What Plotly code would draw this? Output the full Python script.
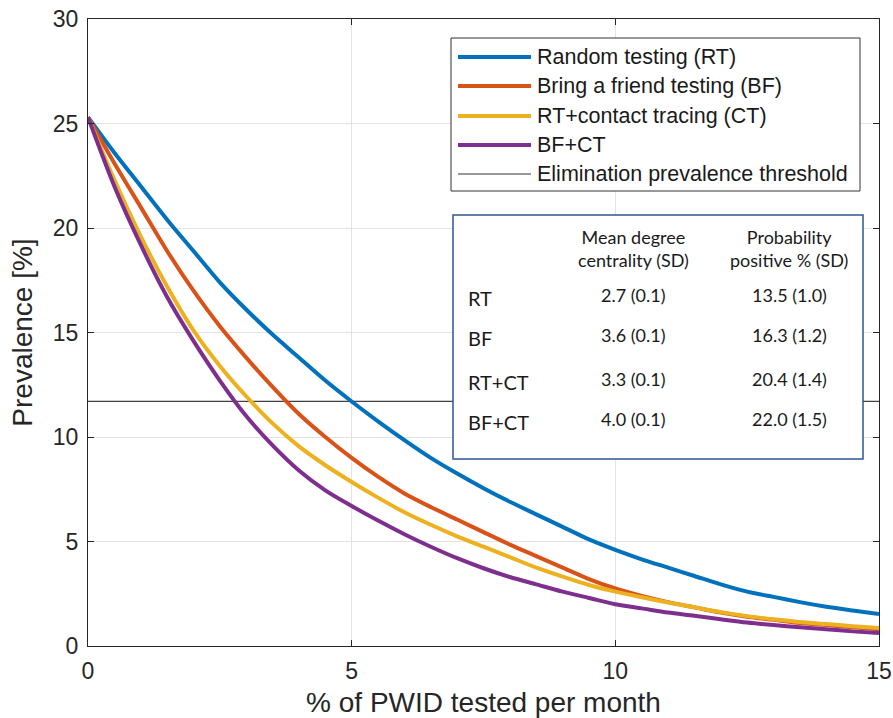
import plotly.graph_objects as go

# % of PWID tested per month
tested = [0, 0.5, 1, 1.5, 2, 2.5, 3, 3.5, 4, 4.5, 5, 5.5, 6, 6.5, 7, 7.5,
          8, 8.5, 9, 9.5, 10, 10.5, 11, 11.5, 12, 12.5, 13, 13.5, 14, 14.5, 15]

# prevalence [%] per strategy
rt = [25.3, 23.6, 22.0, 20.4, 18.9, 17.4, 16.1, 14.9, 13.8, 12.7, 11.7, 10.75,
      9.85, 9.0, 8.25, 7.55, 6.9, 6.3, 5.7, 5.1, 4.6, 4.15, 3.75, 3.35, 2.95,
      2.6, 2.35, 2.1, 1.88, 1.7, 1.53]
bf = [25.3, 23.1, 21.0, 18.9, 17.0, 15.3, 13.8, 12.4, 11.1, 10.0, 9.0, 8.1,
      7.3, 6.65, 6.05, 5.45, 4.85, 4.3, 3.75, 3.2, 2.75, 2.4, 2.1, 1.85, 1.6,
      1.4, 1.25, 1.1, 1.0, 0.9, 0.8]
rt_ct = [25.3, 22.3, 19.6, 17.2, 15.1, 13.4, 11.95, 10.65, 9.55, 8.65, 7.85,
         7.1, 6.4, 5.8, 5.25, 4.75, 4.25, 3.75, 3.32, 2.92, 2.6, 2.33, 2.08,
         1.85, 1.62, 1.43, 1.28, 1.15, 1.05, 0.95, 0.86]
bf_ct = [25.3, 22.0, 19.2, 16.7, 14.6, 12.7, 11.0, 9.6, 8.4, 7.45, 6.7, 6.0,
         5.35, 4.75, 4.2, 3.72, 3.3, 2.95, 2.6, 2.3, 2.0, 1.8, 1.6, 1.45, 1.28,
         1.12, 1.0, 0.9, 0.8, 0.7, 0.62]
threshold = 11.7

series_names = ['Random testing (RT)', 'Bring a friend testing (BF)',
                'RT+contact tracing (CT)', 'BF+CT']
threshold_name = 'Elimination prevalence threshold'

# inset table
table_rows = ['RT', 'BF', 'RT+CT', 'BF+CT']
table_headers = ['Mean degree<br>centrality (SD)', 'Probability<br>positive % (SD)']
centrality = ['2.7 (0.1)', '3.6 (0.1)', '3.3 (0.1)', '4.0 (0.1)']
prob_positive = ['13.5 (1.0)', '16.3 (1.2)', '20.4 (1.4)', '22.0 (1.5)']

colors = ['#0072BD', '#D95319', '#EDB120', '#7E2F8E']
axis_color = '#262626'

# pixel layout of the plot area
W, H = 893, 718
L, R, T, B = 88, 879, 19, 646


def px(x):
    return (x - L) / (R - L)


def py(y):
    return (B - y) / (B - T)


fig = go.Figure()

fig.add_trace(go.Scatter(
    x=[tested[0], tested[-1]], y=[threshold, threshold], mode='lines',
    line=dict(color='rgba(0,0,0,0.75)', width=1.2), name=threshold_name,
    showlegend=False
))
for values, name, color in zip([rt, bf, rt_ct, bf_ct], series_names, colors):
    fig.add_trace(go.Scatter(
        x=tested, y=values, mode='lines', name=name,
        line=dict(color=color, width=4, shape='spline', smoothing=0.8),
        showlegend=False
    ))

shapes = []
annotations = []

# legend box
shapes.append(dict(type='rect', xref='paper', yref='paper', layer='above',
                   x0=px(451), x1=px(860), y0=py(191), y1=py(38),
                   fillcolor='white', line=dict(color='#333333', width=1)))
legend_y = [57, 86, 116, 145, 174]
legend_names = series_names + [threshold_name]
legend_colors = colors + ['#333333']
legend_widths = [4, 4, 4, 4, 1]
for yy, name, color, lw in zip(legend_y, legend_names, legend_colors, legend_widths):
    shapes.append(dict(type='line', xref='paper', yref='paper', layer='above',
                       x0=px(458), x1=px(531), y0=py(yy), y1=py(yy),
                       line=dict(color=color, width=lw)))
    annotations.append(dict(xref='paper', yref='paper', x=px(535), y=py(yy),
                            text=name, showarrow=False, xanchor='left',
                            yanchor='middle',
                            font=dict(family='Liberation Sans', size=21.5,
                                      color='#1a1a1a')))

# table box
shapes.append(dict(type='rect', xref='paper', yref='paper', layer='above',
                   x0=px(453), x1=px(863), y0=py(459), y1=py(215),
                   fillcolor='white', line=dict(color='#2F5597', width=1.5)))
table_font = dict(family='Lato', size=18, color='#1a1a1a')
col_x = [633, 789]
for cx, head in zip(col_x, table_headers):
    annotations.append(dict(xref='paper', yref='paper', x=px(cx), y=py(248),
                            text=head, showarrow=False, xanchor='center',
                            yanchor='middle', align='center', font=table_font))
row_y = [298, 338, 382, 422]
for ry, label, c1, c2 in zip(row_y, table_rows, centrality, prob_positive):
    annotations.append(dict(xref='paper', yref='paper', x=px(466), y=py(ry),
                            text=label, showarrow=False, xanchor='left',
                            yanchor='middle',
                            font=dict(family='Lato', size=20, color='#1a1a1a')))
    for cx, val in zip(col_x, [c1, c2]):
        annotations.append(dict(xref='paper', yref='paper', x=px(cx), y=py(ry - 3),
                                text=val, showarrow=False, xanchor='center',
                                yanchor='middle', font=table_font))

axis_common = dict(
    showline=True, linecolor=axis_color, linewidth=1, mirror='ticks',
    ticks='inside', ticklen=6, tickcolor=axis_color, tickwidth=1,
    showgrid=True, gridcolor='#e3e3e3', gridwidth=1, zeroline=False,
    automargin=False, ticklabelstandoff=4,
    tickfont=dict(family='Liberation Sans', size=23, color=axis_color),
)

fig.update_layout(
    width=W, height=H,
    margin=dict(l=L, r=W - R, t=T, b=H - B),
    plot_bgcolor='white', paper_bgcolor='white',
    showlegend=False,
    xaxis=dict(range=[0, 15], tickvals=[0, 5, 10, 15],
               title=dict(text='% of PWID tested per month', standoff=10,
                          font=dict(family='Liberation Sans', size=28,
                                    color=axis_color)),
               **axis_common),
    yaxis=dict(range=[0, 30], tickvals=[0, 5, 10, 15, 20, 25, 30],
               title=dict(text='Prevalence [%]', standoff=12,
                          font=dict(family='Liberation Sans', size=28,
                                    color=axis_color)),
               **axis_common),
    shapes=shapes,
    annotations=annotations,
)

# drop the browser's default body margin so the figure sits at the page corner
fig.write_html('out.html', config={'displayModeBar': False},
               post_script="document.body.style.margin='0';")
